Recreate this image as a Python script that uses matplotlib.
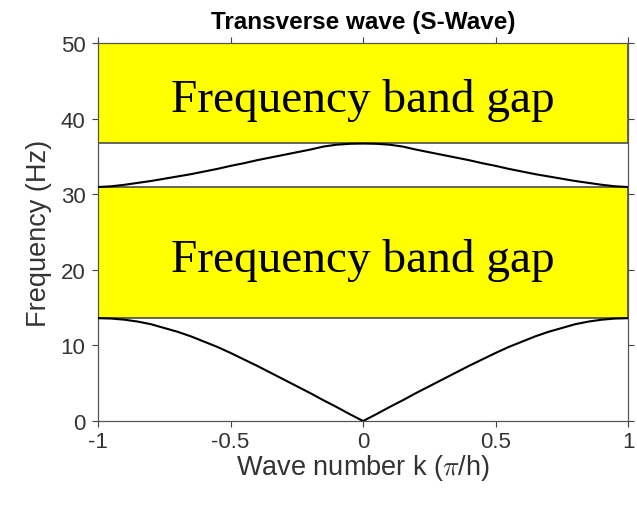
import matplotlib.pyplot as plt
import numpy as np
from matplotlib.patches import Rectangle

plt.rcParams['font.family'] = ['Liberation Sans', 'DejaVu Sans']
plt.rcParams['mathtext.fontset'] = 'cm'

# wave number (pi/h), read for k >= 0; the branches are symmetric in k
k_half = [0.0, 0.05, 0.1, 0.15, 0.2, 0.25, 0.3, 0.35, 0.4, 0.45, 0.5,
          0.55, 0.6, 0.65, 0.7, 0.75, 0.8, 0.85, 0.9, 0.95, 1.0]
lower_branch = [0.0, 0.9, 1.85, 2.75, 3.7, 4.6, 5.5, 6.4, 7.3, 8.15, 9.0,
                9.8, 10.5, 11.2, 11.8, 12.3, 12.8, 13.15, 13.4, 13.55, 13.6]
upper_branch = [36.7, 36.67, 36.55, 36.3, 35.9, 35.55, 35.2, 34.85, 34.5, 34.1, 33.75,
                33.35, 33.0, 32.65, 32.35, 32.05, 31.75, 31.5, 31.25, 31.05, 30.95]

# band gaps (Hz): (bottom, top)
gaps = [(13.6, 30.95), (36.75, 50.0)]
gap_label = 'Frequency band gap'

k = np.concatenate([-np.array(k_half[:0:-1]), k_half])
f_low = np.concatenate([np.array(lower_branch[:0:-1]), lower_branch])
f_up = np.concatenate([np.array(upper_branch[:0:-1]), upper_branch])

fig = plt.figure(figsize=(6.37, 5.06), dpi=100)
ax = fig.add_axes([0.154, 0.166, 0.832, 0.747])

for lo, hi in gaps:
    ax.add_patch(Rectangle((-1, lo), 2, hi - lo, facecolor='#ffff00',
                           edgecolor='#4d4d4d', linewidth=1.2, zorder=1))
    ax.text(0, (lo + hi) / 2 - 0.9, gap_label, ha='center', va='center',
            family='Liberation Serif', fontsize=34, color='black', zorder=2)

ax.plot(k, f_low, color='black', linewidth=1.5, zorder=3)
ax.plot(k, f_up, color='black', linewidth=1.5, zorder=3)

ax.set_xlim(-1, 1)
ax.set_ylim(0, 50)
ax.set_xticks([-1, -0.5, 0, 0.5, 1])
ax.set_xticklabels(['-1', '-0.5', '0', '0.5', '1'])
ax.set_yticks([0, 10, 20, 30, 40, 50])
ax.tick_params(direction='out', top=True, right=True, labelsize=16,
               colors='#404040', length=4, width=0.8, pad=5)
ax.tick_params(axis='x', pad=3)
ax.tick_params(axis='both', labelcolor='#333333')
for s in ax.spines.values():
    s.set_color('#555555')
    s.set_linewidth(0.9)

ax.set_xlabel(r'Wave number k ($\pi$/h)', fontsize=19.5, color='#333333', labelpad=0)
ax.set_ylabel('Frequency (Hz)', fontsize=19.5, color='#333333', labelpad=6)
ax.set_title('Transverse wave (S-Wave)', fontsize=17.5, fontweight='bold', pad=11)

fig.savefig('out.png', dpi=100)
